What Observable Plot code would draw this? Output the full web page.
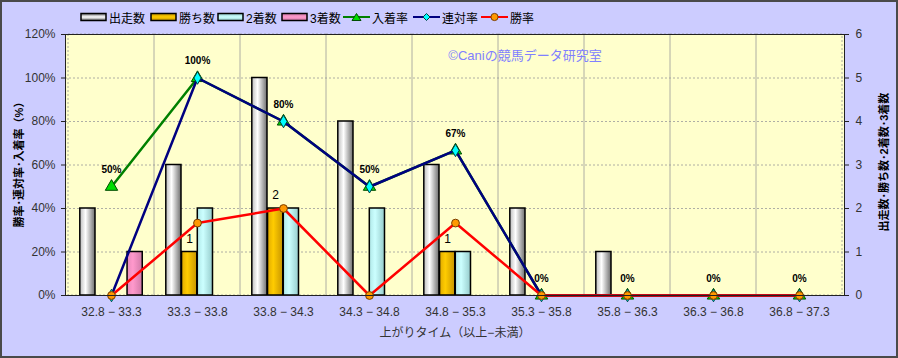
<!DOCTYPE html>
<html><head><meta charset="utf-8">
<script src="https://cdn.jsdelivr.net/npm/d3@7"></script>
<script src="https://cdn.jsdelivr.net/npm/@observablehq/plot@0.6"></script>
<style>
html,body{margin:0;padding:0;background:#ccccff;}
#wrap{position:relative;width:898px;height:358px;background:#ccccff;overflow:hidden;font-family:'Liberation Sans','Noto Sans CJK JP',sans-serif;}
#legend{position:relative;height:28px;font-size:12px;color:#000;}
.item{position:absolute;top:10px;display:flex;align-items:center;height:14px;white-space:nowrap;}
.item svg{display:block;margin-right:2px;}
#border{position:absolute;left:0;top:0;width:898px;height:358px;box-sizing:border-box;border:2px solid #4a4a4a;pointer-events:none;}
</style></head>
<body><div id="wrap"><div id="legend"></div><div id="chart"></div><div id="border"></div></div>
<script>
// ---- data ----
const categories = ["32.8 − 33.3","33.3 − 33.8","33.8 − 34.3","34.3 − 34.8","34.8 − 35.3","35.3 − 35.8","35.8 − 36.3","36.3 − 36.8","36.8 − 37.3"];
const runs    = [2,3,5,4,3,2,1,0,0];
const wins    = [0,1,2,0,1,0,0,0,0];
const seconds = [0,2,2,2,1,0,0,0,0];
const thirds  = [1,0,0,0,0,0,0,0,0];
const placeRate  = [50,100,80,50,66.7,0,0,0,0];
const rentaiRate = [0,100,80,50,66.7,0,0,0,0];
const winRate    = [0,33.3,40,0,33.3,0,0,0,0];
const leftTicks = [0,20,40,60,80,100,120];
const rightTicks = [0,1,2,3,4,5,6];
const legendLabels = ["出走数","勝ち数","2着数","3着数","入着率","連対率","勝率"];
const leftTitle = "勝率･連対率･入着率（%）";
const rightTitle = "出走数･勝ち数･2着数･3着数";
const xTitle = "上がりタイム（以上−未満）";
const watermark = "©Caniの競馬データ研究室";

// ---- styles ----
const barStyles = [
  {key:"runs", id:"g-runs", stops:["#bdbdbd","#ffffff","#6e6e6e"]},
  {key:"wins", id:"g-wins", stops:["#e0aa00","#ffcc00","#c89600"]},
  {key:"seconds", id:"g-2nd", stops:["#b0e8e8","#ccffff","#96cccc"]},
  {key:"thirds", id:"g-3rd", stops:["#e88cbc","#ff99cc","#d07aa8"]}
];
const lineStyles = [
  {key:"place", stroke:"#008000", symbol:"triangle", fill:"#00dd00", mstroke:"#004d00", r:4.6},
  {key:"rentai", stroke:"#000080", symbol:"diamond", fill:"#00ffff", mstroke:"#004040", r:3.8},
  {key:"win", stroke:"#ff0000", symbol:"circle", fill:"#ff9900", mstroke:"#7a3d00", r:3.9}
];
const legendLeft = [80,150,217,281,343,413,481];

// ---- legend ----
const legend = document.getElementById("legend");
legendLabels.forEach((lab,i)=>{
  const div = document.createElement("div");
  div.className = "item";
  div.style.left = legendLeft[i] + "px";
  let sw;
  if (i < 4) {
    const s = barStyles[i].stops;
    sw = `<svg width="27" height="10"><defs><linearGradient id="lg${i}" x1="0" y1="0" x2="0" y2="1"><stop offset="0" stop-color="${s[2]}"/><stop offset="0.5" stop-color="${s[1]}"/><stop offset="1" stop-color="${s[2]}"/></linearGradient></defs><rect x="1" y="1.5" width="25" height="7" fill="url(#lg${i})" stroke="#000" stroke-width="1.5"/></svg>`;
  } else {
    const ls = lineStyles[i-4];
    let m;
    if (ls.symbol === "triangle") m = `<polygon points="13.5,1.5 18,8.5 9,8.5" fill="${ls.fill}" stroke="${ls.mstroke}"/>`;
    else if (ls.symbol === "diamond") m = `<polygon points="13.5,1.5 17,5 13.5,8.5 10,5" fill="${ls.fill}" stroke="${ls.mstroke}"/>`;
    else m = `<circle cx="13.5" cy="5" r="3.6" fill="${ls.fill}" stroke="${ls.mstroke}"/>`;
    sw = `<svg width="27" height="10"><line x1="0" x2="27" y1="5" y2="5" stroke="${ls.stroke}" stroke-width="2"/>${m}</svg>`;
  }
  div.innerHTML = sw + `<span>${lab}</span>`;
  legend.appendChild(div);
});

// ---- chart ----
const rows = categories.map((cat,i)=>({cat, runs:runs[i], wins:wins[i], seconds:seconds[i], thirds:thirds[i],
  place:placeRate[i], rentai:rentaiRate[i], win:winRate[i]}));
const k = 120/6; // count -> percent axis factor
const mL = 65, mR = 54, W = 898;
const bw = (W - mL - mR) / categories.length;
const off0 = 11.8, bwid = 15.75;

const barMarks = barStyles.map((s,j)=>Plot.barY(rows.filter(d=>d[s.key]>0), {
  x:"cat", y:d=>d[s.key]*k, fill:`url(#${s.id})`, stroke:"#000", strokeWidth:1.5,
  insetLeft: off0 + bwid*j, insetRight: bw - off0 - bwid*(j+1)
}));
const lineMarks = lineStyles.flatMap(ls=>[
  Plot.line(rows, {x:"cat", y:ls.key, stroke:ls.stroke, strokeWidth:2.5}),
  Plot.dot(rows, {x:"cat", y:ls.key, symbol:ls.symbol, r:ls.r, fill:ls.fill, stroke:ls.mstroke, strokeWidth:1})
]);

const svg = Plot.plot({
  width: W, height: 330,
  marginTop: 6, marginBottom: 63, marginLeft: mL, marginRight: mR,
  style: {fontFamily:"'Liberation Sans','Noto Sans CJK JP',sans-serif", fontSize:"12px", background:"transparent", overflow:"visible", color:"#333"},
  x: {type:"band", domain:categories, padding:0, label:null},
  y: {domain:[0,120], label:null},
  marks: [
    Plot.frame({fill:"#ffffcc", stroke:"none"}),
    Plot.ruleY(leftTicks.slice(1,-1), {stroke:"#9a9a9a", strokeDasharray:"2,2", strokeWidth:0.8}),
    Plot.barY(categories, {x:d=>d, y1:0, y2:120, fill:"none", stroke:"#9a9a9a", strokeDasharray:"2,2", strokeWidth:0.8}),
    ...barMarks,
    ...lineMarks,
    Plot.text(rows, {x:"cat", y:"place", text:d=>Math.round(d.place)+"%", dy:-17, fontWeight:"bold", fontSize:10, fill:"#000"}),
    Plot.text(rows.filter(d=>d.wins>0), {x:"cat", y:d=>d.wins*k, text:d=>String(d.wins), dx:-8, dy:-13, fontSize:12, fill:"#000"}),
    Plot.text([watermark], {frameAnchor:"top", dx:70, dy:16, fill:"#8080ff", fontSize:13}),
    Plot.frame({stroke:"#222", strokeWidth:1}),
    Plot.axisY({anchor:"left", ticks:leftTicks, tickFormat:d=>d+"%", tickSize:4, tickPadding:6, label:null, stroke:"#222"}),
    Plot.axisY({anchor:"right", ticks:rightTicks.map(v=>v*k), tickFormat:d=>String(d/k), tickSize:4, tickPadding:7, label:null, stroke:"#222"}),
    Plot.axisX({tickSize:0, tickPadding:12, label:null}),
    Plot.text([leftTitle], {frameAnchor:"left", dx:-46, dy:-3, rotate:-90, textAnchor:"middle", lineAnchor:"middle", fontWeight:"bold", fontSize:11, fill:"#000"}),
    Plot.text([rightTitle], {frameAnchor:"right", dx:40, dy:-3, rotate:-90, textAnchor:"middle", lineAnchor:"middle", fontWeight:"bold", fontSize:11, fill:"#000"}),
    Plot.text([xTitle], {frameAnchor:"bottom", dy:38, lineAnchor:"middle", fontSize:12, fill:"#333"})
  ]
});

// gradient defs for the bars
const defs = d3.select(svg).insert("defs", ":first-child");
barStyles.forEach(s=>{
  const g = defs.append("linearGradient").attr("id", s.id).attr("x1",0).attr("y1",0).attr("x2",1).attr("y2",0);
  g.append("stop").attr("offset",0).attr("stop-color",s.stops[0]);
  g.append("stop").attr("offset",0.38).attr("stop-color",s.stops[1]);
  g.append("stop").attr("offset",1).attr("stop-color",s.stops[2]);
});
svg.style.display = "block";
document.getElementById("chart").appendChild(svg);
</script>
</body></html>
